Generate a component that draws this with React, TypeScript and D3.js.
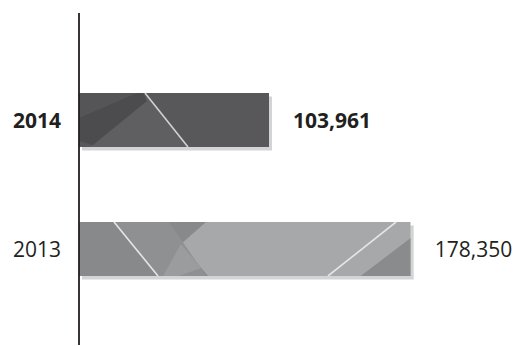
import React from "react";
import * as d3 from "d3";

const categories = ["2014", "2013"];
const values = [103961, 178350];
const boldFlags = [true, false];

const W = 513;
const H = 346;
const AXIS_X = 79;
const BAR_H = 54;
const FONT = "'Open Sans', 'Noto Sans', sans-serif";
const TEXT = "#231f20";

type P = [number, number];
const poly = (x0: number, y0: number, pts: P[]) =>
  pts.map(([dx, dy]) => `${x0 + dx},${y0 + dy}`).join(" ");

function Bar2014({ x0, y0, w }: { x0: number; y0: number; w: number }) {
  const id = "clip2014";
  return (
    <g>
      <rect x={x0 + 3} y={y0 + 3.5} width={w} height={BAR_H} fill="#d3d4d5" />
      <clipPath id={id}>
        <rect x={x0} y={y0} width={w} height={BAR_H} />
      </clipPath>
      <g clipPath={`url(#${id})`}>
        <rect x={x0} y={y0} width={w} height={BAR_H} fill="#58585a" />
        <polygon points={poly(x0, y0, [[0, 0], [62, 0], [0, 26]])} fill="#555557" />
        <polygon points={poly(x0, y0, [[11, 54], [68, 3], [109, 54]])} fill="#5f5f61" />
        <polygon
          points={poly(x0, y0, [[0, 25], [58, 0], [64, 0], [68, 8], [14, 52], [0, 48]])}
          fill="#4c4c4e"
        />
        <line x1={x0 + 66} y1={y0} x2={x0 + 109} y2={y0 + BAR_H} stroke="#d2d2d2" strokeWidth={1.6} />
      </g>
    </g>
  );
}

function Bar2013({ x0, y0, w }: { x0: number; y0: number; w: number }) {
  const id = "clip2013";
  return (
    <g>
      <rect x={x0 + 3} y={y0 + 3.5} width={w} height={BAR_H} fill="#d3d4d5" />
      <clipPath id={id}>
        <rect x={x0} y={y0} width={w} height={BAR_H} />
      </clipPath>
      <g clipPath={`url(#${id})`}>
        <rect x={x0} y={y0} width={w} height={BAR_H} fill="#a7a8aa" />
        <polygon points={poly(x0, y0, [[0, 0], [127, 0], [102, 22], [129, 54], [0, 54]])} fill="#88898b" />
        <polygon points={poly(x0, y0, [[35, 0], [90, 0], [127, 54], [79, 54]])} fill="#8f9092" />
        <polygon points={poly(x0, y0, [[102, 22], [122, 46], [100, 54], [84, 54]])} fill="#9b9c9e" />
        <polygon points={poly(x0, y0, [[w, 16], [w, 54], [w - 50, 54]])} fill="#8a8b8d" />
        <line x1={x0 + 35} y1={y0} x2={x0 + 79} y2={y0 + BAR_H} stroke="#e6e6e6" strokeWidth={1.6} />
        <line x1={x0 + 249} y1={y0 + BAR_H} x2={x0 + 317} y2={y0} stroke="#e6e6e6" strokeWidth={1.6} />
      </g>
    </g>
  );
}

export default function App() {
  const x = d3.scaleLinear().domain([0, 178350]).range([71, 410.7]);
  const y = d3.scalePoint<string>().domain(categories).range([120, 249]);
  const fmt = d3.format(",");

  return (
    <svg
      width={W}
      height={H}
      style={{ position: "absolute", left: 0, top: 0, background: "#fff" }}
      fontFamily={FONT}
    >
      {categories.map((c, i) => {
        const cy = y(c) as number;
        const y0 = cy - BAR_H / 2;
        const xe = x(values[i]);
        const w = xe - AXIS_X;
        const weight = boldFlags[i] ? 700 : 400;
        return (
          <g key={c}>
            {i === 0 ? <Bar2014 x0={AXIS_X} y0={y0} w={w} /> : <Bar2013 x0={AXIS_X} y0={y0} w={w} />}
            <text x={61} y={cy + 8} textAnchor="end" fontSize={21} fontWeight={weight} fill={TEXT}>
              {c}
            </text>
            <text x={xe + 24} y={cy + 8} textAnchor="start" fontSize={21} fontWeight={weight} fill={TEXT}>
              {fmt(values[i])}
            </text>
          </g>
        );
      })}
      <line x1={AXIS_X} y1={13} x2={AXIS_X} y2={345} stroke={TEXT} strokeWidth={1.8} />
    </svg>
  );
}
